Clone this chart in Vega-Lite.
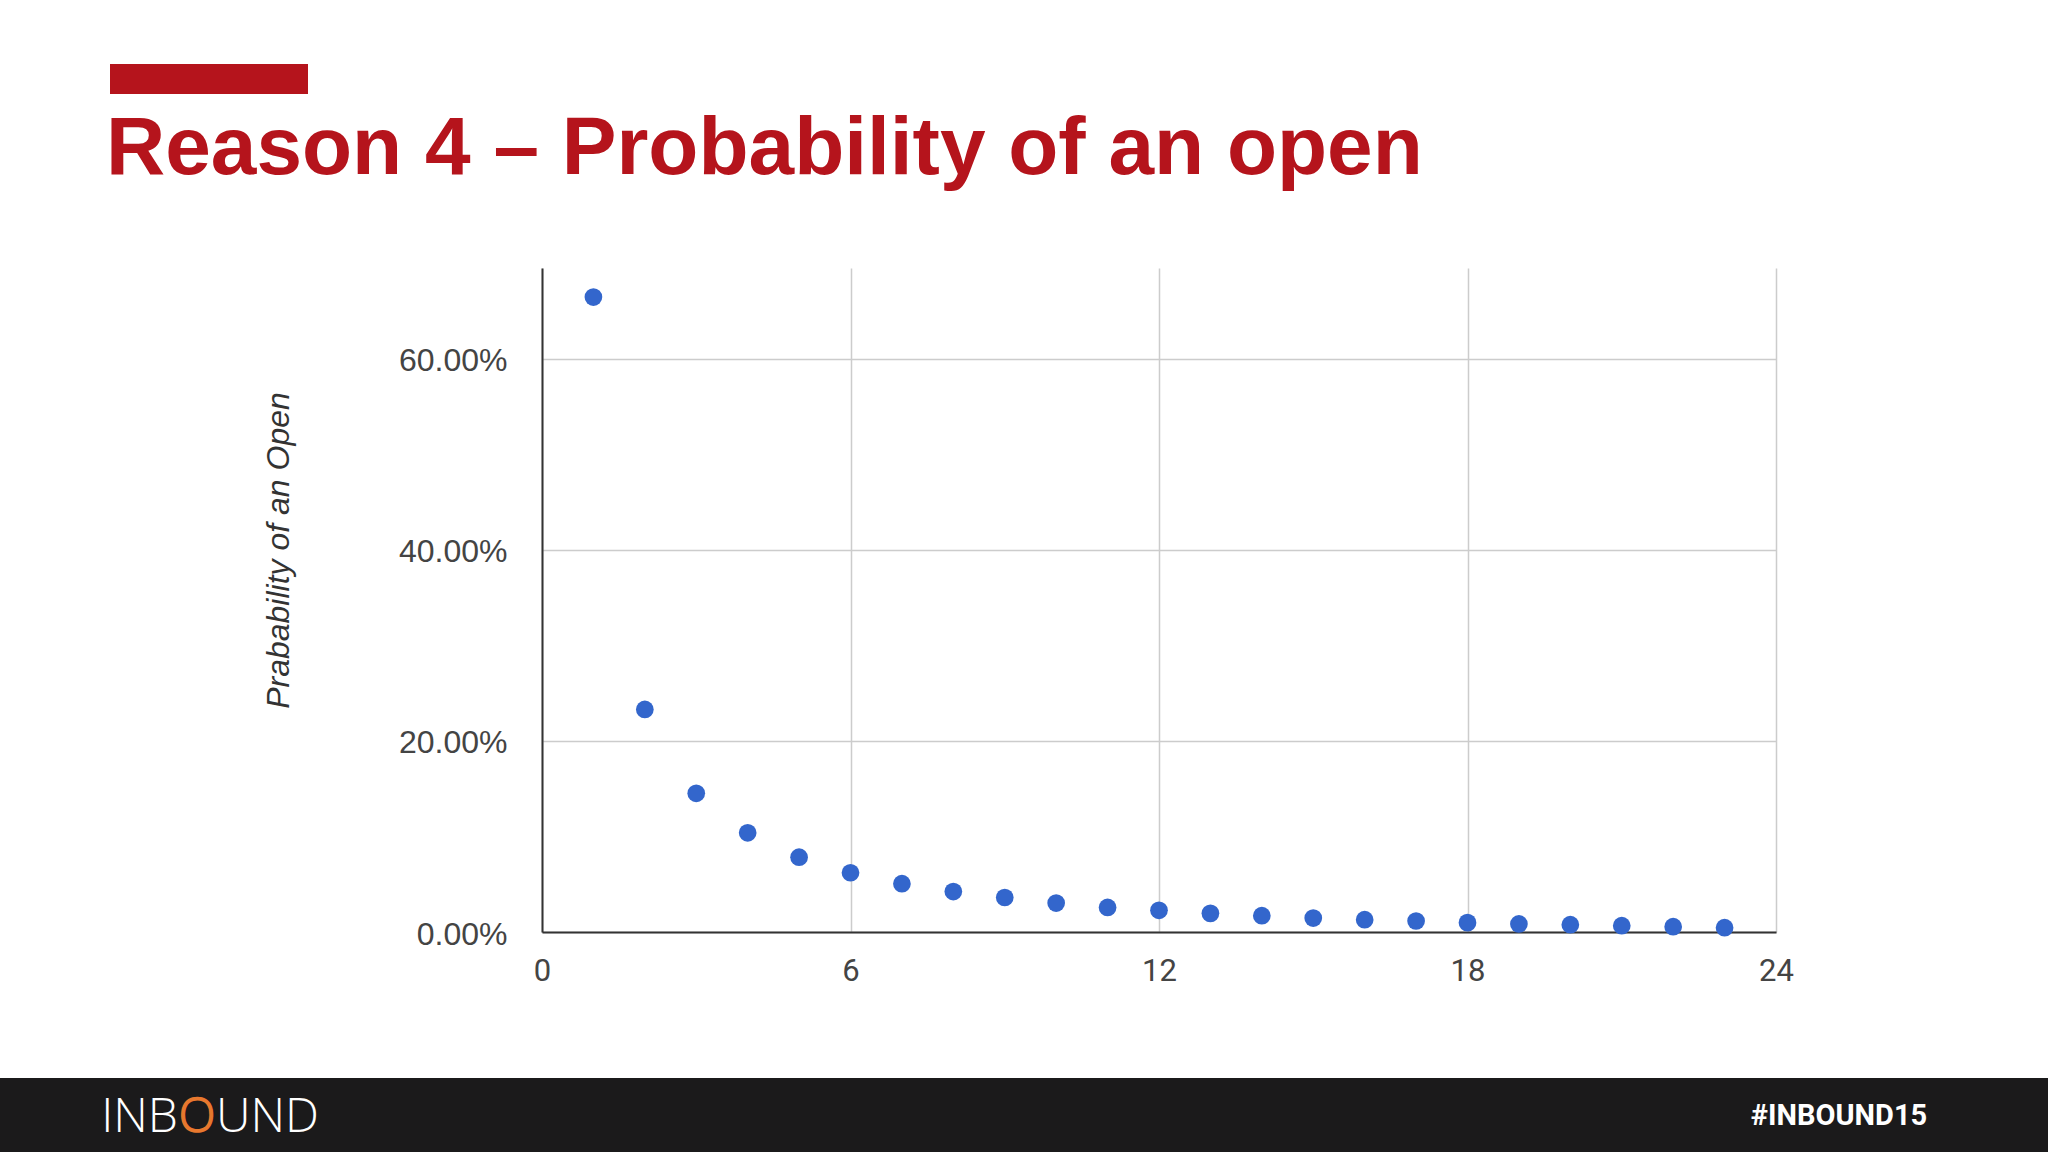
{
  "$schema": "https://vega.github.io/schema/vega-lite/v6.json",
  "background": "#ffffff",
  "padding": {"left": 0, "top": 64, "right": 0, "bottom": 0},
  "spacing": 14,
  "config": {"view": {"stroke": null}},
  "vconcat": [
    {
      "spacing": 0,
      "hconcat": [
        {"width": 110, "height": 30, "data": {"values": []}, "mark": {"type": "rect", "opacity": 0}, "encoding": {}},
        {"width": 198, "height": 30, "view": {"fill": "#b5141c", "stroke": null}, "data": {"values": [{"element": "accent bar"}]}, "mark": {"type": "rect", "color": "#b5141c"}, "encoding": {}}
      ]
    },
    {
      "spacing": 0,
      "hconcat": [
        {"width": 106, "height": 796, "data": {"values": []}, "mark": {"type": "rect", "opacity": 0}, "encoding": {}},
        {
          "width": 1234,
          "height": 664,
          "title": {"text": "Reason 4 – Probability of an open", "anchor": "start", "frame": "group", "dx": -436, "offset": 77, "font": "Liberation Sans", "fontSize": 82, "fontWeight": "bold", "color": "#b5141c"},
          "data": {"values": [
            {"n": 1, "p": 0.6643}, {"n": 2, "p": 0.2329}, {"n": 3, "p": 0.1451}, {"n": 4, "p": 0.1038},
            {"n": 5, "p": 0.0783}, {"n": 6, "p": 0.0620}, {"n": 7, "p": 0.0505}, {"n": 8, "p": 0.0423},
            {"n": 9, "p": 0.0361}, {"n": 10, "p": 0.0303}, {"n": 11, "p": 0.0257}, {"n": 12, "p": 0.0227},
            {"n": 13, "p": 0.0195}, {"n": 14, "p": 0.0171}, {"n": 15, "p": 0.0146}, {"n": 16, "p": 0.0129},
            {"n": 17, "p": 0.0115}, {"n": 18, "p": 0.0098}, {"n": 19, "p": 0.0084}, {"n": 20, "p": 0.0077},
            {"n": 21, "p": 0.0066}, {"n": 22, "p": 0.0056}, {"n": 23, "p": 0.0045}
          ]},
          "mark": {"type": "circle", "size": 314, "color": "#3366cc", "opacity": 1},
          "encoding": {
            "x": {
              "field": "n", "type": "quantitative",
              "scale": {"domain": [0, 24], "nice": false},
              "axis": {"title": null, "values": [0, 6, 12, 18, 24], "format": "d", "grid": true, "gridColor": "#cccccc", "gridWidth": 1.5, "domainColor": "#333333", "domainWidth": 2, "ticks": false, "labelFont": "Roboto", "labelFontSize": 31, "labelColor": "#444444", "labelPadding": 24, "labelFlush": false, "labelOverlap": false}
            },
            "y": {
              "field": "p", "type": "quantitative",
              "scale": {"domain": [0, 0.6947], "nice": false},
              "axis": {"title": "Prabability of an Open", "values": [0, 0.2, 0.4, 0.6], "format": ".2%", "grid": true, "gridColor": "#cccccc", "gridWidth": 1.5, "domainColor": "#333333", "domainWidth": 2, "ticks": false, "labelFont": "Liberation Sans", "labelFontSize": 32, "labelColor": "#444444", "labelPadding": 35, "labelOffset": 2, "titleFont": "Liberation Sans", "titleFontSize": 32, "titleFontStyle": "italic", "titleFontWeight": "normal", "titleColor": "#333333", "titleX": -247, "titleY": 282, "titleAlign": "center", "titleBaseline": "bottom"}
            }
          }
        }
      ]
    },
    {
      "width": 2048,
      "height": 75,
      "view": {"fill": "#1b1a1b", "stroke": null},
      "data": {"values": [{"label": "INBOUND"}, {"label": "#INBOUND15"}]},
      "encoding": {
        "x": {"field": "label", "type": "nominal", "scale": {"type": "point", "domain": ["INBOUND", "#INBOUND15"], "padding": 0.1282}, "axis": null}
      },
      "layer": [
        {"transform": [{"filter": "datum.label === 'INBOUND'"}], "mark": {"type": "text", "font": "Open Sans", "fontWeight": 300, "fontSize": 48, "color": "#ffffff", "dy": 2, "align": "right", "dx": -31}, "encoding": {"text": {"value": "INB"}}},
        {"transform": [{"filter": "datum.label === 'INBOUND'"}], "mark": {"type": "text", "font": "Open Sans", "fontWeight": 300, "fontSize": 48, "color": "#e8782e", "stroke": "#e8782e", "strokeWidth": 1.5, "dy": 2, "dx": -12, "align": "center"}, "encoding": {"text": {"value": "O"}}},
        {"transform": [{"filter": "datum.label === 'INBOUND'"}], "mark": {"type": "text", "font": "Open Sans", "fontWeight": 300, "fontSize": 48, "color": "#ffffff", "dy": 2, "align": "left", "dx": 7}, "encoding": {"text": {"value": "UND"}}},
        {"transform": [{"filter": "datum.label === '#INBOUND15'"}], "mark": {"type": "text", "font": "Roboto", "fontWeight": "bold", "fontSize": 29, "color": "#ffffff"}, "encoding": {"text": {"field": "label"}}}
      ]
    }
  ]
}
